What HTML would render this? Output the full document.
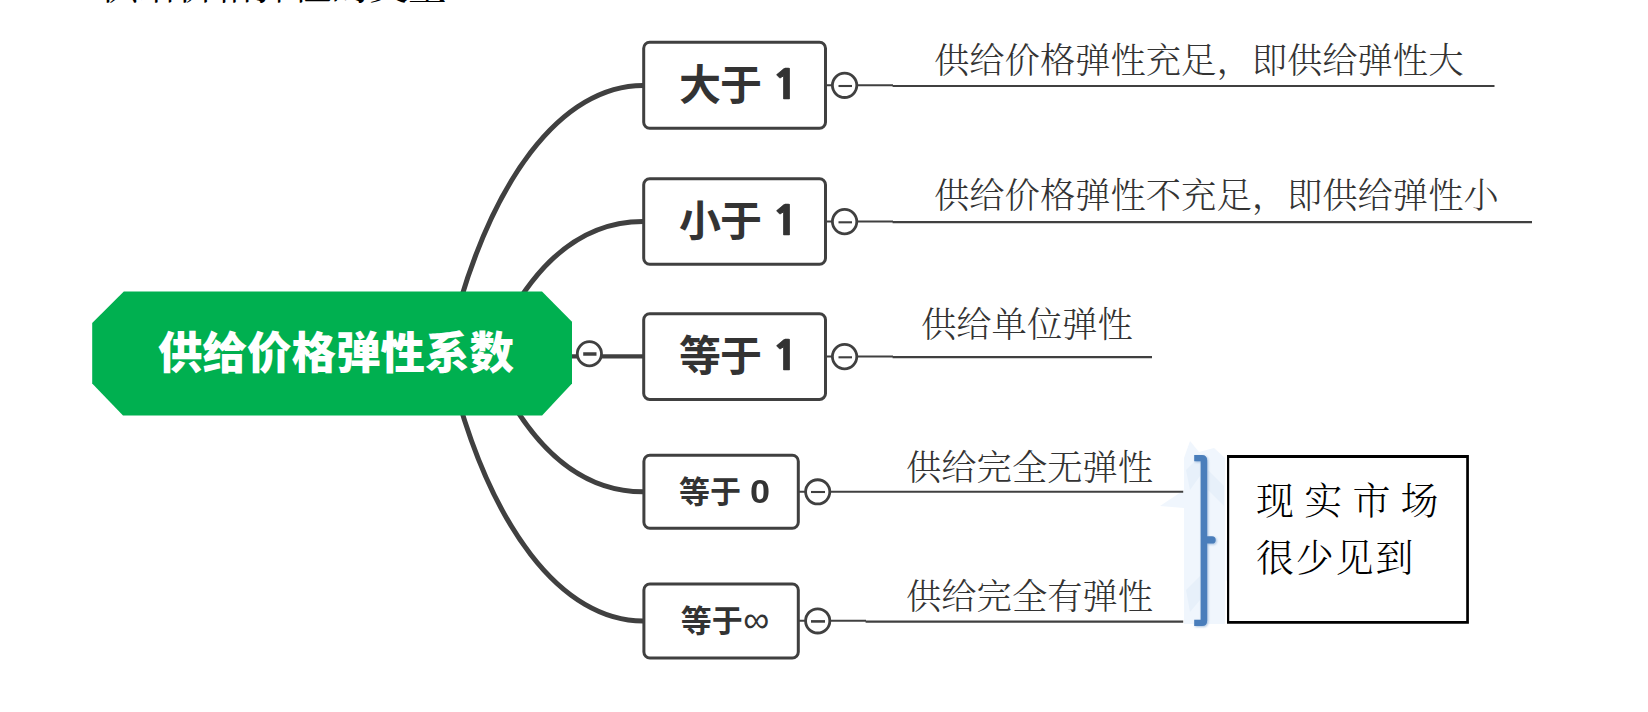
<!DOCTYPE html>
<html lang="zh-CN">
<head>
<meta charset="utf-8">
<title>供给价格弹性的类型</title>
<style>
html,body{margin:0;padding:0;background:#fff;}
body{width:1648px;height:712px;position:relative;overflow:hidden;font-family:"Liberation Sans","Noto Sans CJK SC",sans-serif;}
#stage{position:absolute;left:0;top:0;width:1648px;height:712px;overflow:hidden;}
svg{position:absolute;left:0;top:0;}
.t{position:absolute;white-space:nowrap;line-height:1;}
.title{font-family:"Liberation Serif","Noto Serif CJK SC",serif;font-weight:400;font-size:38.5px;color:#000;left:100px;top:-33.5px;}
.root{font-family:"Liberation Sans","Noto Sans CJK SC",sans-serif;font-weight:900;font-size:44.5px;color:#fff;left:158px;top:332.3px;}
.node{font-family:"Liberation Sans","Noto Sans CJK SC",sans-serif;font-weight:700;color:#333;}
.n1{font-size:42px;letter-spacing:-1px;}
.n2{font-size:31px;}
.inf{font-weight:400;font-size:36.5px;line-height:0;position:relative;top:0.3px;left:0.5px;}
.one{display:inline-block;font-family:"NanumGothic","Liberation Sans",sans-serif;font-weight:800;font-size:39px;letter-spacing:0;-webkit-text-stroke:0.6px #333;transform:scaleX(1.15);transform-origin:0 50%;position:relative;left:0.8px;top:-1px;}
.dg{display:inline-block;font-size:34px;line-height:0;transform:scaleX(1.06);transform-origin:0 50%;margin-left:0.5px;position:relative;top:0.2px;}
.leaf{font-family:"Liberation Serif","Noto Serif CJK SC",serif;font-weight:300;font-size:35.3px;color:#333;}
.note{position:absolute;left:1256px;white-space:nowrap;font-family:"Liberation Serif","Noto Serif CJK SC",serif;font-weight:300;font-size:38px;line-height:57px;color:#000;}
</style>
</head>
<body>
<div id="stage">
<svg width="1648" height="712" viewBox="0 0 1648 712">
  <!-- faint watermark behind brace -->
  <g fill="#f0f6fd">
    <polygon points="1184,458 1190,441 1199,452 1214,448 1225,458 1225,624 1184,624"/>
    <polygon points="1160,506 1184,490 1184,508"/>
    <polygon points="1226,540 1246,560 1246,600 1226,580"/>
  </g>
  <g fill="#e7f0fa">
    <polygon points="1186,470 1200,456 1200,476 1190,490"/>
    <polygon points="1208,470 1224,486 1224,506 1208,490"/>
    <polygon points="1186,590 1200,576 1200,600 1190,612"/>
  </g>
  <!-- connectors from root -->
  <g fill="none" stroke="#404040" stroke-width="5" stroke-linecap="butt">
    <path d="M446.4,354 C487.6,174.3 564.5,85.4 643,85.4"/>
    <path d="M490.6,354 Q547.8,221.4 643,221.4"/>
    <path d="M487,354 Q547,491.85 643,491.85"/>
    <path d="M446.4,354 C487.6,532.6 564.5,621 643,621"/>
    <path d="M570,356.4 L643,356.4" stroke-width="4.4"/>
  </g>
  <!-- root -->
  <polygon points="123.8,291.4 542,291.4 572,321.7 572,383.5 542.1,415.5 123,415.5 92.2,383.5 92.2,323" fill="#00b050"/>
  <!-- root collapse circle -->
  <circle cx="589.4" cy="353.7" r="12.1" fill="#fff" stroke="#404040" stroke-width="2.8"/>
  <path d="M583.2,354 H596.5" stroke="#404040" stroke-width="3.5" fill="none"/>
  <!-- node boxes -->
  <g fill="#fff" stroke="#404040" stroke-width="3">
    <rect x="643.7" y="42.3" width="181.8" height="86" rx="6" ry="6"/>
    <rect x="643.7" y="178.8" width="181.8" height="85.4" rx="6" ry="6"/>
    <rect x="643.7" y="313.8" width="181.8" height="85.6" rx="6" ry="6"/>
    <rect x="643.9" y="455.2" width="154.4" height="73" rx="6" ry="6"/>
    <rect x="643.9" y="584" width="154.4" height="74" rx="6" ry="6"/>
  </g>
  <!-- leaf lines -->
  <g fill="none" stroke="#404040">
    <path d="M826,85.3 H893" stroke-width="2"/>
    <path d="M892.6,86 H1494.5" stroke-width="2.2"/>
    <path d="M826,221.6 H893" stroke-width="2"/>
    <path d="M892.6,222.2 H1532" stroke-width="2.2"/>
    <path d="M826,356.6 H893" stroke-width="2"/>
    <path d="M892.6,357.2 H1152" stroke-width="2.2"/>
    <path d="M799,491.85 H1183.2" stroke-width="2"/>
    <path d="M799,620.8 H866" stroke-width="2"/>
    <path d="M865.6,621.6 H1183.2" stroke-width="2.4"/>
  </g>
  <!-- collapse circles -->
  <g fill="#fff" stroke="#404040" stroke-width="2.8">
    <circle cx="844.6" cy="85.3" r="12.2"/>
    <circle cx="844.6" cy="221.6" r="12.2"/>
    <circle cx="844.6" cy="356.6" r="12.2"/>
    <circle cx="817.7" cy="491.85" r="12.1"/>
    <circle cx="817.7" cy="620.9" r="12.1"/>
  </g>
  <g fill="none" stroke="#404040" stroke-width="2.1">
    <path d="M838.5,86 H852"/>
    <path d="M838.5,222.3 H852"/>
    <path d="M838.5,357.3 H852"/>
    <path d="M811,492 H825"/>
    <path d="M811,621.4 H825" stroke-width="2.6"/>
  </g>
  <!-- brace -->
  <path fill="#4a7ebb" style="filter:drop-shadow(1px 1px 1.2px rgba(74,126,187,0.45))" d="M1194.2,455 H1202 Q1207.2,455 1207.2,460.5 V536.2 H1212 a3.7,3.7 0 0 1 0,7.4 H1207.2 V620.5 Q1207.2,626 1202,626 H1194.2 V619.8 H1200.6 V461.2 H1194.2 Z"/>
  <!-- note box -->
  <rect x="1228" y="456" width="240" height="167" fill="#fff"/>
  <path fill="#000" fill-rule="evenodd" d="M1227,455 H1468.9 V623.8 H1227 Z M1229.2,457.9 V620.9 H1466.2 V457.9 Z"/>
</svg>

<div class="t title">供给价格弹性的类型</div>
<div class="t root">供给价格弹性系数</div>

<div class="t node n1" style="left:679px;top:64.5px;">大于 <span class="one">1</span></div>
<div class="t node n1" style="left:679px;top:200.5px;">小于 <span class="one">1</span></div>
<div class="t node n1" style="left:679px;top:335.5px;">等于 <span class="one">1</span></div>
<div class="t node n2" style="left:679px;top:477px;">等于 <span class="dg">0</span></div>
<div class="t node n2" style="left:680.8px;top:605.7px;">等于<span class="inf">∞</span></div>

<div class="t leaf" style="left:934px;top:44.3px;">供给价格弹性充足，即供给弹性大</div>
<div class="t leaf" style="left:934px;top:179.3px;">供给价格弹性不充足，即供给弹性小</div>
<div class="t leaf" style="left:921px;top:308.3px;">供给单位弹性</div>
<div class="t leaf" style="left:906px;top:451.3px;">供给完全无弹性</div>
<div class="t leaf" style="left:906px;top:580.3px;">供给完全有弹性</div>

<div class="note" style="top:472.7px;letter-spacing:10.2px;">现实市场</div>
<div class="note" style="top:529.9px;letter-spacing:1.8px;">很少见到</div>
</div>
</body>
</html>
